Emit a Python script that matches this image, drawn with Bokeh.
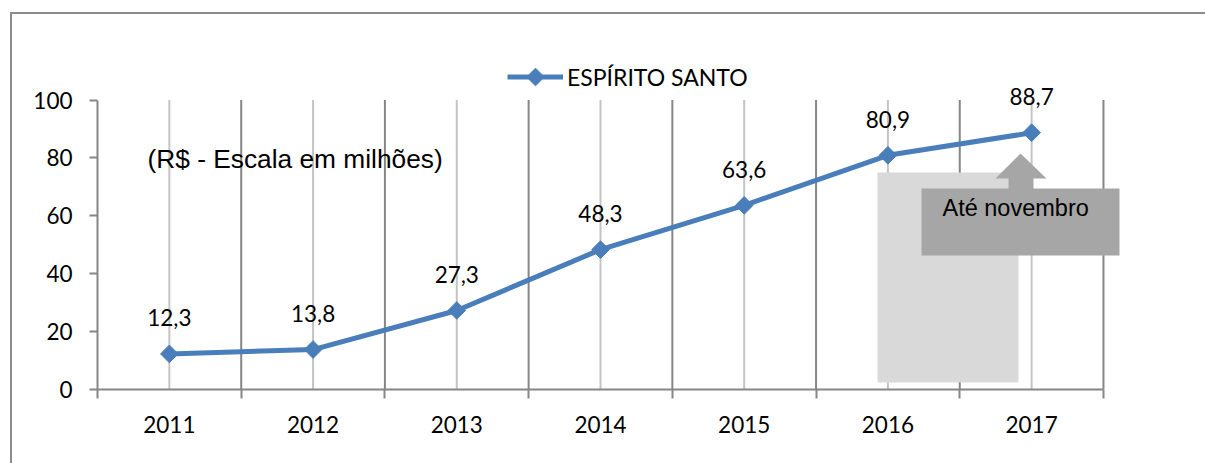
import math
from bokeh.plotting import figure
from bokeh.models import Range1d, FixedTicker, Legend, LegendItem
from bokeh.core.properties import value
from bokeh.embed import file_html
from bokeh.resources import INLINE

# ---------------- data ----------------
years = ["2011", "2012", "2013", "2014", "2015", "2016", "2017"]
values = [12.3, 13.8, 27.3, 48.3, 63.6, 80.9, 88.7]
value_labels = ["12,3", "13,8", "27,3", "48,3", "63,6", "80,9", "88,7"]
series_name = "ESPÍRITO SANTO"
y_ticks = [0, 20, 40, 60, 80, 100]
unit_note = "(R$ - Escala em milhões)"
callout_text = "Até novembro"

# ---------------- layout ----------------
FIG_W, FIG_H = 1205, 463
AX_LEFT_PX = 97               # page x of y axis
AX_BOTTOM_PX = 389            # page y of x axis
CAT_PX = 143.71               # px per category
Y_PX = 2.895                  # px per unit of value
BLUE = "#4a7ebb"
AXIS_GRAY = "#868686"
LIGHT_GRAY = "#c4c4c4"
BORDER_GRAY = "#8c8c8c"
MARKER_SIZE = 12.5

# legend placement (page pixels)
LEG_LEFT, LEG_CY, LEG_GLYPH_W, LEG_GLYPH_H = 507, 76.5, 56, 31

n = len(years)
x_idx = list(range(n))
bounds_x = [i - 0.5 for i in range(n + 1)]

min_left = AX_LEFT_PX
min_bottom = FIG_H - AX_BOTTOM_PX
x_start = -0.5
x_end = x_start + (FIG_W - min_left) / CAT_PX
y_end = (FIG_H - min_bottom) / Y_PX


def xd(px):
    return (px - AX_LEFT_PX) / CAT_PX - 0.5


def yd(py):
    return (AX_BOTTOM_PX - py) / Y_PX


p = figure(width=FIG_W, height=FIG_H,
           x_range=Range1d(x_start, x_end), y_range=Range1d(0, y_end),
           output_backend="svg", toolbar_location=None,
           min_border_left=min_left, min_border_right=0,
           min_border_top=0, min_border_bottom=min_bottom)
p.outline_line_color = None
p.xgrid.visible = False
p.ygrid.visible = False
p.background_fill_color = None
p.border_fill_color = None
# outer chart border (only top and left edges fall inside the window)
grad = f"linear-gradient({BORDER_GRAY}, {BORDER_GRAY})"
p.styles = {
    "background": f"{grad} 10px 12px / 2px 100% no-repeat, "
                  f"{grad} 10px 12px / 100% 2px no-repeat, white"
}

# x axis
xa = p.xaxis[0]
xa.ticker = FixedTicker(ticks=x_idx, minor_ticks=bounds_x)
xa.bounds = (bounds_x[0], bounds_x[-1])
xa.major_label_overrides = {i: y for i, y in enumerate(years)}
xa.major_tick_out = 0
xa.major_tick_in = 0
xa.major_tick_line_color = None
xa.minor_tick_out = 9
xa.minor_tick_in = 0
xa.minor_tick_line_color = AXIS_GRAY
xa.minor_tick_line_width = 2
xa.axis_line_color = AXIS_GRAY
xa.axis_line_width = 2
xa.major_label_text_font = "Lato"
xa.major_label_text_font_size = "22.5px"
xa.major_label_text_color = "black"
xa.major_label_standoff = 17

# y axis
ya = p.yaxis[0]
ya.ticker = FixedTicker(ticks=y_ticks, minor_ticks=[])
ya.bounds = (y_ticks[0], y_ticks[-1])
ya.major_tick_out = 8
ya.major_tick_in = 0
ya.major_tick_line_color = AXIS_GRAY
ya.major_tick_line_width = 2
ya.minor_tick_line_color = None
ya.axis_line_color = AXIS_GRAY
ya.axis_line_width = 2
ya.major_label_text_font = "Lato"
ya.major_label_text_font_size = "22.5px"
ya.major_label_text_color = "black"
ya.major_label_standoff = 17

# vertical grid lines
p.segment(x0=x_idx, y0=[y_ticks[0]] * n, x1=x_idx, y1=[y_ticks[-1]] * n,
          line_color=LIGHT_GRAY, line_width=2)
p.segment(x0=bounds_x[1:], y0=[y_ticks[0]] * n, x1=bounds_x[1:], y1=[y_ticks[-1]] * n,
          line_color=AXIS_GRAY, line_width=2)

# light gray box behind 2016
p.quad(left=xd(877), right=xd(1018), bottom=yd(382), top=yd(172),
       fill_color="#d9d9d9", line_color=None)

# callout with arrow
cx = [921, 921, 1008, 1008, 995, 1020, 1046, 1033, 1033, 1119, 1119]
cy = [255, 188, 188, 178, 178, 153, 178, 178, 188, 188, 255]
p.patch([xd(v) for v in cx], [yd(v) for v in cy], fill_color="#a6a6a6", line_color=None)
p.text(x=[xd(942)], y=[yd(207)], text=[callout_text], text_font=value("Liberation Sans"),
       text_font_size="23.5px", text_align="left", text_baseline="middle", text_color="black")

# unit note
p.text(x=[xd(147)], y=[yd(158)], text=[unit_note], text_font=value("Liberation Sans"),
       text_font_size="26.3px", text_align="left", text_baseline="middle", text_color="black")

# data series
line_r = p.line(x_idx, values, line_color=BLUE, line_width=5)
mark_r = p.scatter(x_idx, values, marker="square", angle=math.pi / 4, size=MARKER_SIZE,
                   fill_color=BLUE, line_color=BLUE)
p.text(x=x_idx, y=values, text=value_labels, y_offset=-36, text_align="center",
       text_baseline="middle", text_font=value("Lato"), text_font_size="22.5px",
       text_color="black")

# legend (line sample + label); legend markers ignore angle, so the diamond
# sample is drawn over the legend glyph area
legend = Legend(items=[LegendItem(label=series_name, renderers=[line_r])],
                location=(LEG_LEFT - AX_LEFT_PX,
                          AX_BOTTOM_PX - LEG_CY - LEG_GLYPH_H / 2),
                orientation="horizontal",
                border_line_color=None, background_fill_alpha=0,
                padding=0, margin=0, spacing=0,
                glyph_width=LEG_GLYPH_W, glyph_height=LEG_GLYPH_H, label_standoff=4,
                label_text_font="Lato", label_text_font_size="23px",
                label_text_color="black")
p.add_layout(legend)
p.scatter([xd(LEG_LEFT + LEG_GLYPH_W / 2)], [yd(LEG_CY)], marker="square",
          angle=math.pi / 4, size=MARKER_SIZE, fill_color=BLUE, line_color=BLUE,
          level="overlay")

open("out.html", "w").write(file_html(p, INLINE))
